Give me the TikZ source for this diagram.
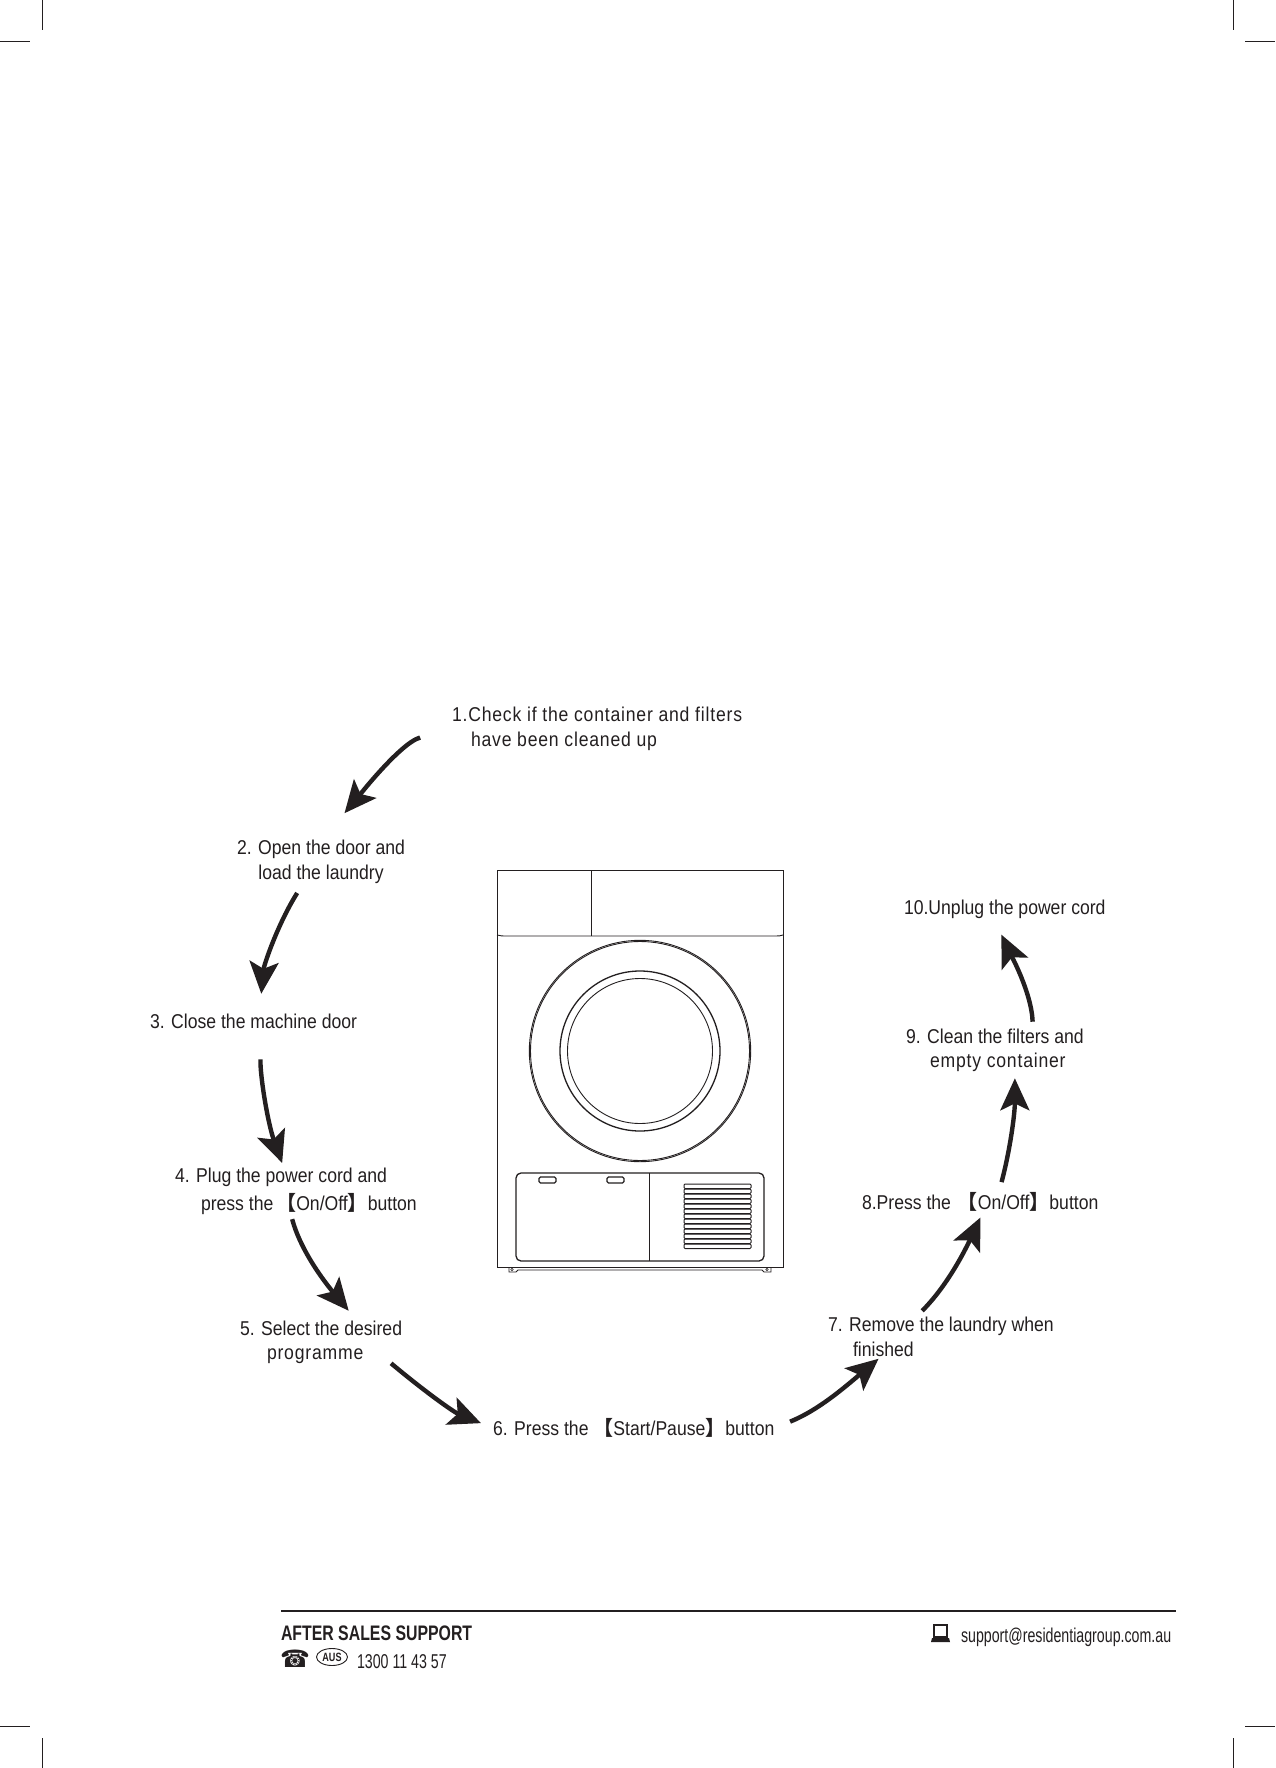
\documentclass[tikz,border=0pt]{standalone}
\usepackage{fontspec}
\setmainfont{Liberation Sans}
\newfontfamily\stepfont[FakeStretch=0.88]{Liberation Sans}
\newfontfamily\spacedfont[FakeStretch=0.88,LetterSpace=4]{Liberation Sans}
\newfontfamily\cjkfont{Noto Sans CJK SC}
\newfontfamily\footfont[FakeStretch=0.71]{Liberation Sans}
\newfontfamily\footboldfont[FakeStretch=0.755]{Liberation Sans}
\newfontfamily\iconfont{DejaVu Sans}
\usetikzlibrary{arrows.meta,shapes.geometric}
\definecolor{inkblack}{RGB}{35,31,32}
\newcommand{\lbr}{\smash{\cjkfont\bfseries\fontsize{20}{20}\selectfont【}}
\newcommand{\rbr}{\smash{\cjkfont\bfseries\fontsize{20}{20}\selectfont】}}
\tikzset{
    steplabel/.style={inner sep=0pt, outer sep=0pt, align=left, text=inkblack, font=\stepfont\fontsize{20}{25}\selectfont},
    flowarrow/.style={line width=4.4pt, color=inkblack, -{Stealth[length=32pt,width=29pt,inset=7pt]}},
    dryerline/.style={draw=inkblack, line width=0.9pt},
    footlabel/.style={inner sep=0pt, outer sep=0pt, text=inkblack, font=\footfont\fontsize{20}{24}\selectfont}
}
\begin{document}
\begin{tikzpicture}[x=1pt,y=-1pt]
    \useasboundingbox[fill=white] (0,0) rectangle (1275,1768);
    % crop marks
    \foreach \px in {42,1233} {
        \draw[inkblack, line width=1pt] (\px,0) -- (\px,30);
        \draw[inkblack, line width=1pt] (\px,1738) -- (\px,1768);
    }
    \foreach \py in {42,1726} {
        \draw[inkblack, line width=1pt] (0,\py) -- (30,\py);
        \draw[inkblack, line width=1pt] (1245,\py) -- (1275,\py);
    }
    % steps
    \node[steplabel, anchor=west, font=\spacedfont\fontsize{20}{25}\selectfont] (stepone) at (452,729) {1.Check if the container and filters\\\hspace*{19pt}have been cleaned up};
    \node[steplabel, anchor=north, align=center] (steptwo) at (321,840) {2. Open the door and\\load the laundry};
    \node[steplabel, anchor=west] (stepthree) at (150,1021) {3. Close the machine door};
    \node[steplabel, anchor=west, font=\stepfont\fontsize{20}{28}\selectfont] (stepfour) at (175,1191) {4. Plug the power cord and\\\hspace*{26pt}press the\hspace{-2pt} \lbr On/Off\rbr button};
    \node[steplabel, anchor=west, font=\stepfont\fontsize{20}{24}\selectfont] (stepfive) at (240,1342) {5. Select the desired\\\hspace*{27pt}{\spacedfont programme}};
    \node[steplabel, anchor=west] (stepsix) at (493,1428) {6. Press the\hspace{0pt} \lbr Start/Pause\rbr button};
    \node[steplabel, anchor=west] (stepseven) at (828,1337) {7. Remove the laundry when\\\hspace*{25pt}finished};
    \node[steplabel, anchor=west] (stepeight) at (862,1202) {8.Press the\hspace{2pt} \lbr On/Off\rbr button};
    \node[steplabel, anchor=west, font=\stepfont\fontsize{20}{24}\selectfont] (stepnine) at (906,1050) {9. Clean the filters and\\\hspace*{24pt}{\spacedfont empty container}};
    \node[steplabel, anchor=west] (stepten) at (904,909) {10.Unplug the power cord};
    % arrows
    \draw[flowarrow, shorten <=33pt, shorten >=35pt] (stepone.west) to[out=195,in=50,looseness=0.8] ([xshift=1pt]steptwo.north);
    \draw[flowarrow, shorten <=11pt, shorten >=20pt] ([xshift=-18pt]steptwo.south) to[out=238,in=85,looseness=0.9] ([xshift=6pt]stepthree.north);
    \draw[flowarrow, shorten <=31pt, shorten >=5pt] ([xshift=8pt]stepthree.south) to[out=268,in=110,looseness=0.85] ([xshift=-12pt]stepfour.north);
    \draw[flowarrow, shorten <=5pt, shorten >=13pt] ([xshift=-5pt]stepfour.south) to[out=285,in=130,looseness=0.85] ([xshift=36pt]stepfive.north);
    \draw[flowarrow, shorten >=13pt] ([xshift=-11pt]stepfive.south east) to[out=320,in=158,looseness=0.9] (stepsix.west);
    \draw[flowarrow, shorten <=17pt, shorten >=3pt] (stepsix.east) to[out=22,in=220,looseness=0.95] ([xshift=-60pt]stepseven.south);
    \draw[flowarrow, shorten <=9pt, shorten >=9pt] ([xshift=-25pt]stepseven.north) to[out=45,in=245,looseness=0.9] ([xshift=4pt]stepeight.south);
    \draw[flowarrow, shorten <=13pt, shorten >=7pt] ([xshift=18pt]stepeight.north) to[out=75,in=270,looseness=0.9] ([xshift=20pt]stepnine.south);
    \draw[flowarrow, shorten <=7pt, shorten >=18pt] ([xshift=38pt]stepnine.north) to[out=92,in=295,looseness=0.8] ([xshift=-11pt]stepten.south);
    % dryer
    \draw[dryerline] (497,870) rectangle (783,1267);
    \draw[dryerline] (497,935) .. controls (500,936) and (503,936) .. (507,936) -- (775,936) .. controls (778,936) and (781,936) .. (783,935);
    \draw[dryerline] (591,870) -- (591,936);
    \draw[dryerline] (640,1051) circle (110.7);
    \draw[dryerline] (640,1051) circle (109.5);
    \draw[dryerline, line width=1.3pt] (640,1051) circle (80);
    \draw[dryerline] (640,1051) circle (72.5);
    \draw[dryerline, line width=1.3pt, rounded corners=5pt] (516,1173) rectangle (764,1261);
    \draw[dryerline] (649,1173) -- (649,1261);
    \draw[dryerline, line width=1.3pt, rounded corners=1.5pt] (539,1177) rectangle (556,1183);
    \draw[dryerline, line width=1.3pt, rounded corners=1.5pt] (607,1177) rectangle (624,1183);
    \foreach \i in {0,...,12}
        \draw[dryerline, line width=1pt, rounded corners=1pt] (684,1184+\i*5) rectangle (751,1188.5+\i*5);
    \draw[dryerline] (509,1267) -- (509,1272) -- (516,1272) -- (518,1270) -- (762,1270) -- (764,1272) -- (771,1272) -- (771,1267);
    \draw[dryerline, line width=0.6pt] (512,1269.5) circle (1.2);
    \draw[dryerline, line width=0.6pt] (767,1269.5) circle (1.2);
    % footer
    \draw[inkblack, line width=2pt] (281,1611) -- (1176,1611);
    \node[footlabel, anchor=west, font=\footboldfont\bfseries\fontsize{21}{24}\selectfont] (aftersales) at (281,1633) {AFTER SALES SUPPORT};
    \node[footlabel, anchor=west, font=\iconfont\bfseries\fontsize{24}{24}\selectfont] (phoneicon) at (280,1659) {☎};
    \node[ellipse, draw=inkblack, line width=0.9pt, inner sep=0pt, minimum width=31pt, minimum height=17pt, text=inkblack, font=\footboldfont\bfseries\fontsize{12}{12}\selectfont] (auslabel) at (332,1657) {AUS};
    \node[footlabel, anchor=west] (phonenumber) at (357,1662) {1300 11 43 57};
    \node[footlabel, anchor=west] (supportmail) at (961,1637) {support@residentiagroup.com.au};
    \draw[inkblack, line width=1.2pt] (934,1625) rectangle (947,1637);
    \fill[inkblack] (932,1638) -- (949,1638) -- (950,1642) -- (931,1642) -- cycle;
\end{tikzpicture}
\end{document}
